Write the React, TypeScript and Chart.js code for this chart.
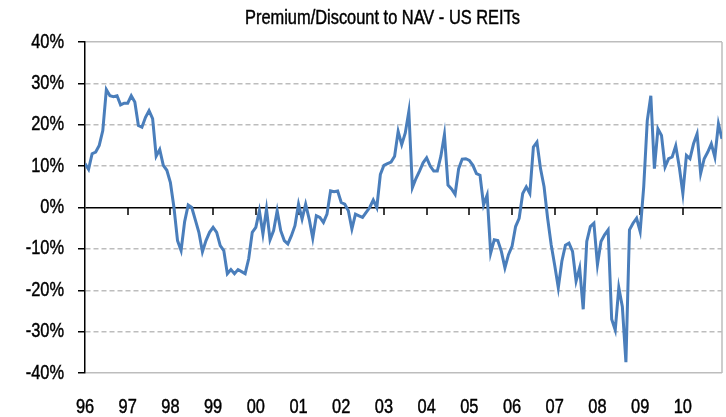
import React, { useEffect, useRef } from "react";
import { Chart, registerables } from "chart.js";

Chart.register(...registerables);

const TITLE = "Premium/Discount to NAV - US REITs";
const YEAR_LABELS = ["96", "97", "98", "99", "00", "01", "02", "03", "04", "05", "06", "07", "08", "09", "10"];
const Y_MIN = -40;
const Y_MAX = 40;
const Y_STEP = 10;

// Monthly premium/discount (%), Jan of each year first
const V_1996 = [10.6, 9.2, 13, 13.4, 15, 18.6, 28.5, 27, 26.8, 27, 24.8, 25.2];
const V_1997 = [25.2, 27, 25.5, 19.8, 19.4, 21.8, 23.4, 21.5, 12.4, 14, 10.2, 9];
const V_1998 = [6, 0, -8, -10.4, -3.4, 0.6, 0, -3, -6, -10.7, -8, -6];
const V_1999 = [-4.8, -6, -9.2, -10.4, -16, -15, -16, -15, -15.5, -16, -12.4, -6];
const V_2000 = [-4.8, -0.8, -6.4, -0.4, -7.8, -5.6, -0.8, -5.6, -8, -8.8, -6.8, -4.4];
const V_2001 = [0.8, -2.8, 0.8, -2.8, -7.4, -2, -2.4, -3.6, -1.6, 4, 3.8, 4];
const V_2002 = [1.2, 0.8, -0.8, -5.2, -1.6, -2, -2.4, -1.2, 0, 1.8, 0, 8];
const V_2003 = [10.2, 10.6, 11, 12.4, 18.4, 15.2, 18, 23.2, 4.8, 7, 8.8, 10.8];
const V_2004 = [12, 10, 8.8, 8.8, 12.4, 17.6, 5.4, 4.5, 3.2, 9.4, 11.7, 11.8];
const V_2005 = [11.4, 10.2, 8.2, 7.8, 0.6, 3, -11, -7.8, -8, -10.6, -14.6, -11.4];
const V_2006 = [-9.4, -4.6, -2.6, 3.4, 5, 3.4, 14.6, 15.8, 9.4, 5, -2.6, -9];
const V_2007 = [-14, -19.4, -13, -9.1, -8.6, -10.6, -17.8, -14.6, -24.6, -8.2, -4.6, -3.8];
const V_2008 = [-13.8, -8.2, -6.6, -5.4, -27, -29.6, -19.4, -24, -37.4, -5.4, -3.8, -2.6];
const V_2009 = [-5.8, 5, 21, 27, 9.4, 19, 17.4, 9.8, 11.8, 12.2, 14.9, 9.8];
const V_2010 = [3.4, 12.6, 11.8, 15.4, 17.8, 8.2, 11.8, 13.4, 15.4, 12.2, 20.2, 16.6];

const MONTHLY = [
  ...V_1996, ...V_1997, ...V_1998, ...V_1999, ...V_2000, ...V_2001, ...V_2002, ...V_2003,
  ...V_2004, ...V_2005, ...V_2006, ...V_2007, ...V_2008, ...V_2009, ...V_2010,
];

const FONT = "'Liberation Sans', Arial, sans-serif";
const NARROW = 0.82; // Arial Narrow look: horizontally compressed Arial metrics
const LINE_COLOR = "#4a7ebb";
const GRID_COLOR = "#bdbdbd";

function narrowText(ctx: CanvasRenderingContext2D, text: string, x: number, y: number, align: CanvasTextAlign, size: number) {
  ctx.save();
  ctx.translate(x, y);
  ctx.scale(NARROW, 1);
  ctx.font = `${size}px ${FONT}`;
  ctx.fillStyle = "#000";
  ctx.strokeStyle = "#000";
  ctx.lineWidth = 0.45;
  ctx.textAlign = align;
  ctx.textBaseline = "middle";
  ctx.fillText(text, 0, 0);
  ctx.strokeText(text, 0, 0);
  ctx.restore();
}

const decorPlugin = {
  id: "decor",
  beforeDatasetsDraw(chart: any) {
    const { ctx, chartArea, scales } = chart;
    const xs = scales.x;
    const ys = scales.y;
    ctx.save();
    ctx.strokeStyle = GRID_COLOR;
    ctx.lineWidth = 1.5;
    ctx.beginPath();
    ctx.moveTo(chartArea.right, chartArea.top);
    ctx.lineTo(chartArea.right, chartArea.bottom);
    ctx.stroke();
    const y0 = Math.round(ys.getPixelForValue(0));
    ctx.strokeStyle = "#000";
    ctx.lineWidth = 1.5;
    YEAR_LABELS.forEach((_, k) => {
      if (k === 0) return;
      const px = Math.round(xs.getPixelForValue(k * 12));
      ctx.beginPath();
      ctx.moveTo(px, y0);
      ctx.lineTo(px, y0 + 7);
      ctx.stroke();
    });
    ctx.restore();
  },
  afterDraw(chart: any) {
    const { ctx, chartArea, scales } = chart;
    const xs = scales.x;
    const ys = scales.y;
    ys.ticks.forEach((t: any) => {
      narrowText(ctx, t.value + "%", chartArea.left - 21, ys.getPixelForValue(t.value), "right", 20);
    });
    xs.ticks.forEach((t: any) => {
      narrowText(ctx, YEAR_LABELS[Math.round(t.value / 12)], xs.getPixelForValue(t.value), chartArea.bottom + 34, "center", 20);
    });
    narrowText(ctx, TITLE, (chartArea.left + chartArea.right) / 2 - 21, 18, "center", 20);
  },
};

export default function App() {
  const canvasRef = useRef<HTMLCanvasElement | null>(null);

  useEffect(() => {
    const canvas = canvasRef.current;
    if (!canvas) return;
    const chart = new Chart(canvas, {
      type: "line",
      data: {
        datasets: [
          {
            data: MONTHLY.map((v, i) => ({ x: i, y: v })),
            borderColor: LINE_COLOR,
            borderWidth: 3,
            pointRadius: 0,
            tension: 0,
            fill: false,
          },
        ],
      },
      plugins: [decorPlugin],
      options: {
        animation: false,
        responsive: false,
        maintainAspectRatio: false,
        layout: { padding: { top: 42, right: 4, bottom: 0, left: 5 } },
        plugins: {
          legend: { display: false },
          tooltip: { enabled: false },
          title: { display: false },
        },
        scales: {
          x: {
            type: "linear",
            min: 0,
            max: MONTHLY.length - 1,
            afterBuildTicks: (scale: any) => {
              scale.ticks = YEAR_LABELS.map((_, k) => ({ value: k * 12 }));
            },
            afterFit: (scale: any) => {
              scale.height = 44;
            },
            grid: { display: false, drawTicks: false },
            border: { display: false },
            ticks: { display: false, autoSkip: false, maxRotation: 0 },
          },
          y: {
            type: "linear",
            min: Y_MIN,
            max: Y_MAX,
            afterFit: (scale: any) => {
              scale.width = 80;
            },
            ticks: { display: false, stepSize: Y_STEP },
            grid: {
              color: (c: any) => (c.tick && c.tick.value === 0 ? "#000" : GRID_COLOR),
              lineWidth: 1.5,
              tickColor: "#000",
              tickLength: 7,
              tickWidth: 1.5,
            },
            border: {
              display: true,
              color: "#000",
              width: 1.5,
              dash: (c: any) =>
                c.tick && (c.tick.value === 0 || Math.abs(c.tick.value) === 40) ? [] : [5, 3],
            },
          },
        },
      } as any,
    });
    return () => chart.destroy();
  }, []);

  return (
    <div style={{ position: "fixed", left: 0, top: 0, width: 726, height: 417, background: "#fff" }}>
      <canvas ref={canvasRef} width={726} height={417} style={{ display: "block" }} />
    </div>
  );
}
